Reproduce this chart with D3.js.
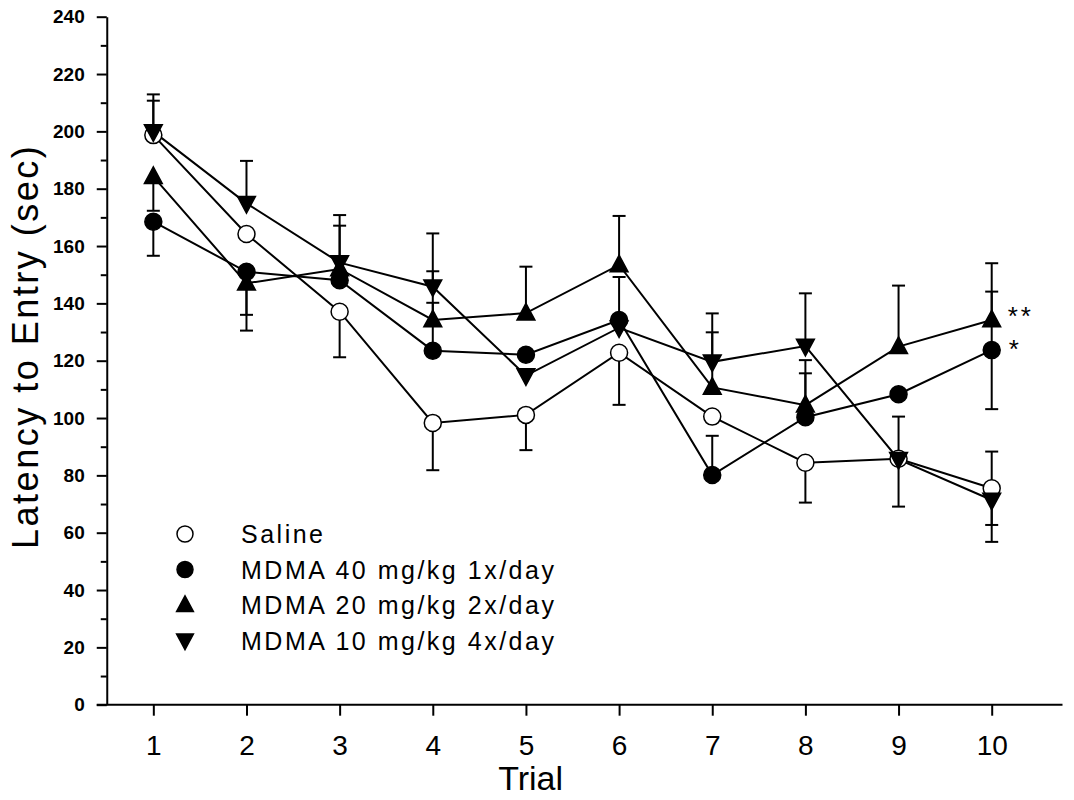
<!DOCTYPE html>
<html>
<head>
<meta charset="utf-8">
<style>
  body { margin: 0; background: #fff; }
  svg { display: block; background: #fff; }
  text { font-family: "Liberation Sans", Arial, sans-serif; fill: #000; }
</style>
</head>
<body>
<svg width="1074" height="800"></svg>
<script src="https://d3js.org/d3.v7.min.js"></script>
<script>
// trials and group means (sec)
var trials = [1, 2, 3, 4, 5, 6, 7, 8, 9, 10];
var yTicks = [0, 20, 40, 60, 80, 100, 120, 140, 160, 180, 200, 220, 240];
var seriesNames = ['Saline', 'MDMA 40 mg/kg 1x/day', 'MDMA 20 mg/kg 2x/day', 'MDMA 10 mg/kg 4x/day'];

var saline = [198.7, 164.2, 137.1, 98.3, 101.1, 122.8, 100.5, 84.4, 85.8, 75.5];
var mdma40 = [168.5, 151.0, 148.1, 123.5, 122.1, 134.2, 80.1, 100.3, 108.3, 123.7];
var mdma20 = [184.2, 147.0, 152.0, 134.2, 136.6, 153.4, 110.7, 104.5, 124.9, 134.2];
var mdma10 = [199.9, 174.9, 154.2, 145.8, 114.8, 131.5, 119.6, 125.1, 85.6, 71.4];

// SEM bars, drawn one side only where shown (0 = not drawn)
var salineUp = [12, 0, 0, 0, 0, 0, 0, 0, 14.7, 12.8];
var salineDown = [0, 0, 15.9, 16.5, 12.3, 18.2, 0, 13.9, 0, 12.8];
var mdma40Up = [0, 0, 0, 16.7, 0, 15, 13.7, 15.3, 0, 20.4];
var mdma40Down = [11.9, 15, 0, 0, 0, 0, 0, 0, 0, 20.6];
var mdma20Up = [0, 0, 15.1, 17, 16.2, 17.1, 19.2, 15.7, 21.3, 19.8];
var mdma20Down = [11.9, 16.5, 0, 0, 0, 0, 0, 0, 0, 0];
var mdma10Up = [13, 14.8, 16.6, 18.6, 0, 0, 16.9, 18.4, 0, 0];
var mdma10Down = [0, 0, 0, 0, 0, 0, 0, 0, 16.5, 14.6];

var series = [
  { name: seriesNames[0], mean: saline, up: salineUp, down: salineDown, shape: 'circle', fill: '#fff' },
  { name: seriesNames[1], mean: mdma40, up: mdma40Up, down: mdma40Down, shape: 'circle', fill: '#000' },
  { name: seriesNames[2], mean: mdma20, up: mdma20Up, down: mdma20Down, shape: 'up', fill: '#000' },
  { name: seriesNames[3], mean: mdma10, up: mdma10Up, down: mdma10Down, shape: 'down', fill: '#000' }
];

var svg = d3.select('svg');

var x = d3.scaleLinear().domain([0.5, 10.76]).range([106.75, 1062.5]);
var y = d3.scaleLinear().domain([0, 240]).range([704.7, 16.7]);

// y axis: major + minor ticks
var yAxis = svg.append('g').attr('transform', 'translate(' + x(0.5) + ',0)')
  .call(d3.axisLeft(y).tickValues(yTicks).tickSize(10).tickSizeOuter(0).tickPadding(12));
yAxis.selectAll('text').attr('font-size', 19).attr('font-weight', 'bold')
  .style('font-family', '"Liberation Sans", Arial, sans-serif');
svg.append('g').attr('transform', 'translate(' + x(0.5) + ',0)')
  .call(d3.axisLeft(y).tickValues(yTicks.slice(1).map(function (t) { return t - 10; })).tickSize(6).tickFormat(''))
  .select('.domain').remove();

// x axis
var xAxis = svg.append('g').attr('transform', 'translate(0,' + y(0) + ')')
  .call(d3.axisBottom(x).tickValues(trials).tickSize(11).tickPadding(19));
xAxis.select('.domain').remove();
xAxis.selectAll('text').attr('font-size', 28)
  .style('font-family', '"Liberation Sans", Arial, sans-serif');
svg.append('line')
  .attr('x1', x(0.5) - 10).attr('x2', x.range()[1])
  .attr('y1', y(0)).attr('y2', y(0));

svg.selectAll('.domain, .tick line, line').attr('stroke', '#000').attr('stroke-width', 2);

// axis titles
svg.append('text').attr('x', x(5.05)).attr('y', 790).attr('text-anchor', 'middle')
  .attr('font-size', 34).text('Trial');
svg.append('text').attr('transform', 'translate(38,' + y(125) + ') rotate(-90)')
  .attr('text-anchor', 'middle').attr('font-size', 36).attr('letter-spacing', 2.5)
  .text('Latency to Entry (sec)');

function symbolPath(shape, s) {
  if (shape === 'circle') return d3.symbol().type(d3.symbolCircle).size(Math.PI * s * s)();
  if (shape === 'up') return 'M0,' + (-s * 1.15) + 'L' + s * 1.05 + ',' + s * 0.8 + 'L' + (-s * 1.05) + ',' + s * 0.8 + 'Z';
  return 'M0,' + (s * 1.15) + 'L' + s * 1.05 + ',' + (-s * 0.8) + 'L' + (-s * 1.05) + ',' + (-s * 0.8) + 'Z';
}

var capW = 6.5;
var plot = svg.append('g');

// error bars
series.forEach(function (s) {
  trials.forEach(function (t, i) {
    [[s.up[i], 1], [s.down[i], -1]].forEach(function (e) {
      if (!e[0]) return;
      var yEnd = y(s.mean[i] + e[1] * e[0]);
      plot.append('line').attr('x1', x(t)).attr('x2', x(t))
        .attr('y1', y(s.mean[i])).attr('y2', yEnd)
        .attr('stroke', '#000').attr('stroke-width', 2);
      plot.append('line').attr('x1', x(t) - capW).attr('x2', x(t) + capW)
        .attr('y1', yEnd).attr('y2', yEnd)
        .attr('stroke', '#000').attr('stroke-width', 2);
    });
  });
});

// lines
var line = d3.line().x(function (d, i) { return x(trials[i]); }).y(function (d) { return y(d); });
series.forEach(function (s) {
  plot.append('path').attr('d', line(s.mean)).attr('fill', 'none')
    .attr('stroke', '#000').attr('stroke-width', 2);
});

// markers
series.forEach(function (s) {
  plot.selectAll(null).data(s.mean).enter().append('path')
    .attr('transform', function (d, i) { return 'translate(' + x(trials[i]) + ',' + y(d) + ')'; })
    .attr('d', symbolPath(s.shape, 8.5))
    .attr('fill', s.fill).attr('stroke', '#000').attr('stroke-width', 1.5);
});

// significance marks
svg.append('text').attr('x', x(10) + 16).attr('y', y(mdma20[9]) + 5)
  .attr('font-size', 26).attr('letter-spacing', 3).text('**');
svg.append('text').attr('x', x(10) + 17).attr('y', y(mdma40[9]) + 8)
  .attr('font-size', 26).text('*');

// legend
var legend = svg.append('g').attr('transform', 'translate(185,534)');
series.forEach(function (s, i) {
  var g = legend.append('g').attr('transform', 'translate(0,' + i * 35.5 + ')');
  g.append('path').attr('d', symbolPath(s.shape, 8)).attr('fill', s.fill)
    .attr('stroke', '#000').attr('stroke-width', 1.5);
  g.append('text').attr('x', 56).attr('y', 9).attr('font-size', 25)
    .attr('letter-spacing', 2.5).text(s.name);
});
</script>
</body>
</html>
